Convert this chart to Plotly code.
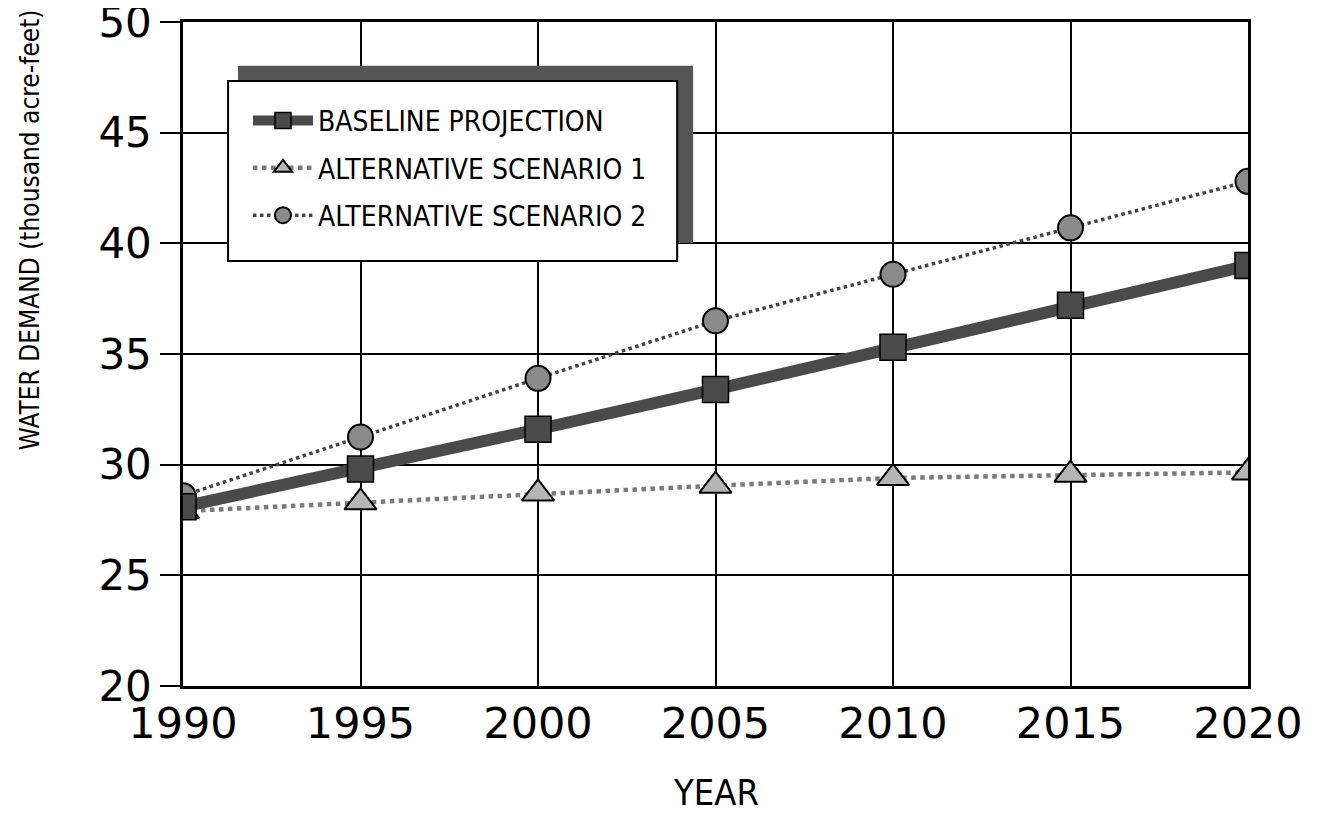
import plotly.graph_objects as go

years = [1990, 1995, 2000, 2005, 2010, 2015, 2020]
baseline = [28.1, 29.8, 31.6, 33.4, 35.3, 37.2, 39.0]
scenario1 = [27.9, 28.3, 28.7, 29.05, 29.4, 29.55, 29.65]
scenario2 = [28.6, 31.25, 33.9, 36.5, 38.6, 40.7, 42.8]
names = ["BASELINE PROJECTION", "ALTERNATIVE SCENARIO 1", "ALTERNATIVE SCENARIO 2"]
y_ticks = [20, 25, 30, 35, 40, 45, 50]

NARROW = "DejaVu Sans Condensed, Liberation Sans Narrow, Arial Narrow, sans-serif"
WIDE = "DejaVu Sans, Verdana, sans-serif"

fig = go.Figure()
fig.add_trace(go.Scatter(
    x=years, y=scenario1, name=names[1], mode="lines+markers", legendgroup="s1",
    legendrank=2,
    line=dict(color="#7a7a7a", width=4.5, dash="dot"),
    marker=dict(symbol="triangle-up", size=28, color="#b5b5b5",
                line=dict(color="black", width=2))))
fig.add_trace(go.Scatter(
    x=years, y=scenario2, name=names[2], mode="lines+markers", legendgroup="s2",
    legendrank=3,
    line=dict(color="#444444", width=3.5, dash="dot"),
    marker=dict(symbol="circle", size=25, color="#8a8a8a",
                line=dict(color="black", width=2))))
fig.add_trace(go.Scatter(
    x=years, y=baseline, name=names[0], mode="lines+markers", legendgroup="b",
    legendrank=1,
    line=dict(color="#4a4a4a", width=12),
    marker=dict(symbol="square", size=26, color="#4a4a4a",
                line=dict(color="black", width=1.5))))

# legend shadow and box
fig.add_shape(type="rect", xref="paper", yref="paper", layer="above",
              x0=0.0516, x1=0.479, y0=0.667, y1=0.934,
              fillcolor="#555555", line=dict(width=0))
fig.add_shape(type="rect", xref="paper", yref="paper", layer="above",
              x0=0.0423, x1=0.464, y0=0.640, y1=0.911,
              fillcolor="white", line=dict(color="black", width=2))

fig.add_annotation(text="WATER DEMAND (thousand acre-feet)", xref="paper", yref="paper",
                   x=-0.1437, y=0.688, textangle=-90, showarrow=False,
                   xanchor="center", yanchor="middle",
                   font=dict(family=NARROW, size=26, color="black"))
fig.add_annotation(text="YEAR", xref="paper", yref="paper",
                   x=0.5, y=-0.16, showarrow=False, xanchor="center", yanchor="middle",
                   font=dict(family=NARROW, size=36, color="black"))

fig.update_layout(
    width=1324, height=822,
    margin=dict(l=175, r=84, t=14, b=144, autoexpand=False),
    paper_bgcolor="white", plot_bgcolor="white",
    font=dict(family=WIDE, color="black"),
    showlegend=True,
    legend=dict(x=0.061, y=0.889, xanchor="left", yanchor="top",
                bgcolor="rgba(0,0,0,0)", borderwidth=0,
                font=dict(family=NARROW, size=28, color="black"),
                itemwidth=60, tracegroupgap=8,
                traceorder="grouped"),
)
fig.update_xaxes(range=[1990, 2020], tickvals=years, ticktext=[str(y) for y in years],
                 showgrid=True, gridcolor="black", gridwidth=2,
                 showline=True, linecolor="black", linewidth=2.5, mirror=True,
                 ticks="", tickfont=dict(family=WIDE, size=43),
                 ticklabelstandoff=-2, zeroline=False, automargin=False,
                 ticklabeloverflow="allow")
fig.update_yaxes(range=[20, 50], tickvals=y_ticks,
                 showgrid=True, gridcolor="black", gridwidth=2,
                 showline=True, linecolor="black", linewidth=2.5, mirror=True,
                 ticks="outside", ticklen=20, tickwidth=2, tickcolor="black",
                 tickfont=dict(family=WIDE, size=42), zeroline=False, automargin=False,
                 ticklabeloverflow="allow")

fig.write_html("out.html")
